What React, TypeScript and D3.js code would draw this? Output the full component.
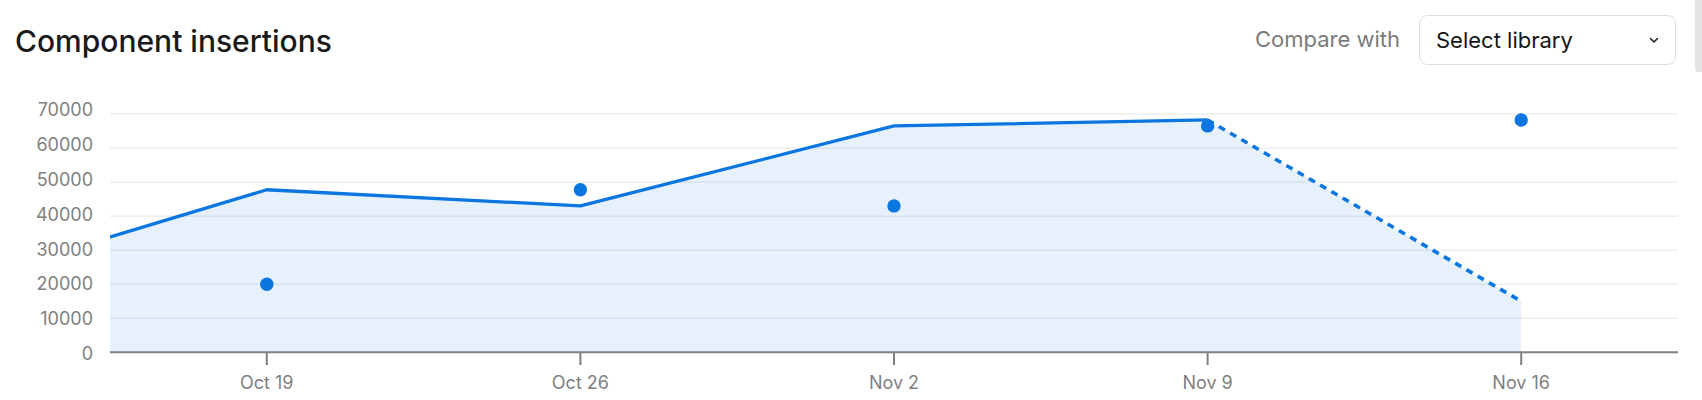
import React from "react";
import * as d3 from "d3";

const weeks = ["2023-10-12", "2023-10-19", "2023-10-26", "2023-11-02", "2023-11-09", "2023-11-16"];
const currentValues = [20000, 47750, 43000, 66500, 68250, 15000];
const previousWeeks = ["2023-10-19", "2023-10-26", "2023-11-02", "2023-11-09", "2023-11-16"];
const previousValues = [20000, 47750, 43000, 66500, 68250];
const yTicks = [0, 10000, 20000, 30000, 40000, 50000, 60000, 70000];
const xTickDates = ["2023-10-19", "2023-10-26", "2023-11-02", "2023-11-09", "2023-11-16"];
const domainStart = "2023-10-15T12:00:00";
const domainEnd = "2023-11-19T12:00:00";

const parse = (s: string) => new Date(s.length <= 10 ? s + "T00:00:00" : s);
const fmt = d3.timeFormat("%b %-d");

const W = 1702;
const H = 400;
const left = 110;
const right = 1678;
const top = 114;
const bottom = 352.3;

const BLUE = "#0b76df";
const FONT = "Inter, 'Noto Sans', sans-serif";

export default function App() {
  const x = d3.scaleTime().domain([parse(domainStart), parse(domainEnd)]).range([left, right]);
  const y = d3.scaleLinear().domain([0, 70000]).range([bottom, top]);
  const yLabel = d3.scaleLinear().domain([0, 70000]).range([354, 109.5]);

  const pts = weeks.map((w, i) => ({ d: parse(w), v: currentValues[i] }));
  const solid = pts.slice(0, pts.length - 1);
  const dashed = pts.slice(pts.length - 2);

  const line = d3.line<{ d: Date; v: number }>().x((p) => x(p.d)).y((p) => y(p.v));
  const area = d3
    .area<{ d: Date; v: number }>()
    .x((p) => x(p.d))
    .y0(y(0))
    .y1((p) => y(p.v));

  const prev = previousWeeks.map((w, i) => ({ d: parse(w), v: previousValues[i] }));

  return (
    <div style={{ position: "absolute", left: 0, top: 0 }}>
      <svg width={W} height={H} style={{ display: "block", fontFamily: FONT }}>
        <defs>
          <clipPath id="plot">
            <rect x={left} y={0} width={right - left} height={bottom} />
          </clipPath>
        </defs>
        <rect width={W} height={H} fill="#fff" />
        <text x={15} y={52} fontSize={30} fontWeight={500} fill="#1a1a1a">
          Component insertions
        </text>
        <text x={1400} y={47} fontSize={22} fill="#7b7b7b" textAnchor="end">
          Compare with
        </text>
        <rect x={1419.5} y={15.5} width={256} height={49} rx={8} fill="#fff" stroke="#dedede" />
        <text x={1436} y={47.5} fontSize={22} fill="#161616">
          Select library
        </text>
        <path d="M1650.5,38.5 L1654,42 L1657.5,38.5" fill="none" stroke="#222" strokeWidth={1.6} strokeLinecap="round" strokeLinejoin="round" />
        <path d="M1695,0 H1702 V72 H1699 Q1695,72 1695,68 Z" fill="#e4e4e4" />

        {yTicks.map((t) => (
          <g key={t}>
            {t > 0 && <line x1={left} x2={right} y1={y(t)} y2={y(t)} stroke="#eeeeee" strokeWidth={1.5} />}
            <text x={93} y={yLabel(t)} dy="0.35em" textAnchor="end" fontSize={18} fill="#808080">
              {t}
            </text>
          </g>
        ))}

        <g clipPath="url(#plot)">
          <path d={area(pts) || ""} fill="rgba(11,118,223,0.1)" />
          <path d={line(solid) || ""} fill="none" stroke={BLUE} strokeWidth={3.3} strokeLinejoin="round" />
          <path d={line(dashed) || ""} fill="none" stroke={BLUE} strokeWidth={3.6} strokeDasharray="7,6" />
        </g>

        {prev.map((p, i) => (
          <circle key={i} cx={x(p.d)} cy={y(p.v)} r={6.7} fill={BLUE} />
        ))}

        <line x1={left} x2={right} y1={bottom} y2={bottom} stroke="#808080" strokeWidth={2} />
        {xTickDates.map((s) => {
          const d = parse(s);
          return (
            <g key={s}>
              <line x1={x(d)} x2={x(d)} y1={bottom} y2={365} stroke="#808080" strokeWidth={2} />
              <text x={x(d)} y={389} textAnchor="middle" fontSize={18} fill="#808080">
                {fmt(d)}
              </text>
            </g>
          );
        })}
      </svg>
    </div>
  );
}
